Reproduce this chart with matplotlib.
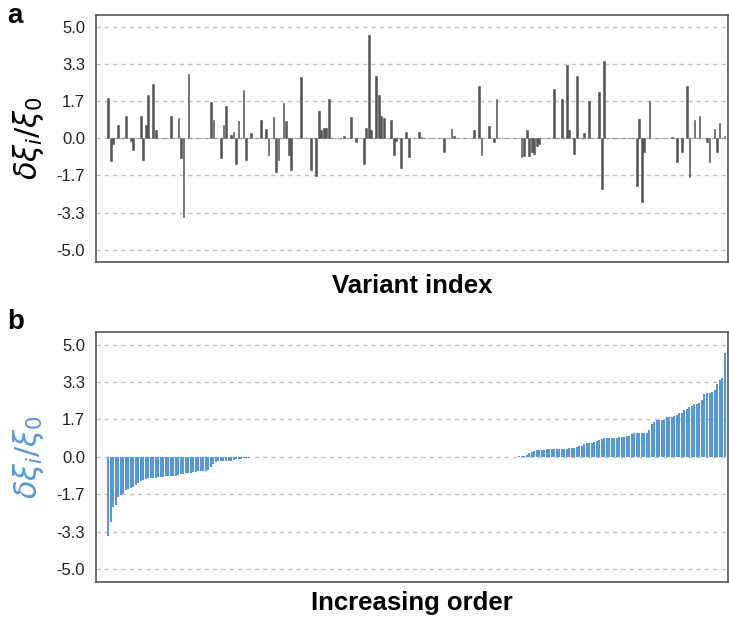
# Variant effects: raw (panel a) and sorted (panel b)

import numpy as np
import matplotlib.pyplot as plt

plt.rcParams['font.family'] = ['Liberation Sans', 'DejaVu Sans']

n_variants = 247

# panel a: non-zero variants (index, value)
variant_idx = [0, 1, 2, 4, 7, 9, 10, 13, 14, 15, 16, 18, 19, 25, 28, 29, 30, 32,
               41, 42, 45, 46, 47, 49, 50, 51, 52, 54, 55, 57,
               61, 63, 64, 66, 67, 68, 70, 71, 72, 73, 77, 81, 83, 84, 85, 86, 87, 88,
               94, 97, 99, 102, 103, 104, 105, 107, 108, 109, 110, 113, 114, 115, 117,
               119, 120, 124, 125, 134, 137, 138, 146, 148, 149, 152, 154, 155,
               165, 166, 167, 168, 169, 170, 171, 172, 178, 181,
               183, 184, 186, 187, 190, 192, 196, 197, 198, 211, 212, 213, 214, 216,
               225, 227, 229, 231, 232, 234, 236, 239, 240, 242, 243, 244, 246]
variant_val = [1.8, -1.0, -0.24, 0.62, 1.0, -0.1, -0.5, 1.0, -0.95, 0.62, 1.95, 2.43, 0.36,
               1.0, 0.92, -0.86, -3.52, 2.9,
               1.63, 0.83, -0.86, 0.62, 1.45, 0.15, 0.3, -1.15, 0.77, 2.16, -0.98, 0.24,
               0.83, 0.44, -0.74, 0.95, -1.49, -0.95, 1.57, 0.77, -0.74, -1.42, 2.75, -1.42,
               -1.69, 1.21, 0.36, 0.47, 0.47, 1.75,
               0.1, 0.95, -0.15, -1.15, 0.47, 4.65, 0.36, 2.81, 1.95, 1.0, 0.92, 0.83,
               -0.74, -0.12, -1.33,
               0.27, -0.83, 0.3, 0.05, -0.62, 0.41, 0.1, 0.36, 2.37, -0.74, 0.56, -0.15,
               1.75,
               -0.83, -0.8, 0.36, -0.8, -0.62, -0.71, -0.36, -0.27, 2.22, 1.75,
               3.31, 0.36, -0.68, 2.81, 0.24, 1.66, 2.1, -2.28, 3.49, -2.13, 0.89, -2.87,
               -0.62, 1.66,
               0.05, -1.07, -0.59, 2.37, -1.75, 0.83, 1.0, -0.18, -1.07, 0.41, -0.62,
               0.68, 0.12]

# panel b: sorted values
sorted_neg = [-3.53, -2.89, -2.25, -2.15, -1.78, -1.70, -1.67, -1.48, -1.41, -1.38,
              -1.33, -1.26, -1.16, -1.08, -1.04, -1.0, -0.96, -0.93, -0.92, -0.92,
              -0.89, -0.89, -0.88, -0.86, -0.86, -0.84, -0.84, -0.83, -0.81, -0.78,
              -0.76, -0.74, -0.71, -0.70, -0.68, -0.67, -0.65, -0.65, -0.64, -0.62,
              -0.59, -0.47, -0.30, -0.22, -0.19, -0.19, -0.19, -0.19, -0.18, -0.18,
              -0.15, -0.10, -0.09, -0.09, -0.07, -0.06, -0.05]
n_zero = 107
sorted_pos = [0.02, 0.04, 0.05, 0.1, 0.18, 0.21, 0.27, 0.3, 0.3, 0.3,
              0.3, 0.33, 0.36, 0.36, 0.36, 0.36, 0.36, 0.36, 0.36, 0.36,
              0.41, 0.41, 0.41, 0.44, 0.5, 0.5, 0.56, 0.62, 0.62, 0.62,
              0.65, 0.71, 0.77, 0.8, 0.83, 0.83, 0.83, 0.83, 0.83, 0.83,
              0.89, 0.89, 0.89, 0.92, 0.95, 1.0, 1.04, 1.04, 1.04, 1.04,
              1.04, 1.04, 1.21, 1.48, 1.57, 1.63, 1.63, 1.66, 1.66, 1.78,
              1.78, 1.78, 1.81, 1.87, 1.96, 1.96, 2.07, 2.13, 2.22, 2.28,
              2.37, 2.37, 2.4, 2.55, 2.79, 2.84, 2.84, 2.87, 2.96, 3.26,
              3.44, 3.5, 4.62]

tick_vals = [5.0, 10 / 3, 5 / 3, 0.0, -5 / 3, -10 / 3, -5.0]
tick_labels = ["5.0", "3.3", "1.7", "0.0", "-1.7", "-3.3", "-5.0"]

raw = np.zeros(n_variants)
raw[variant_idx] = variant_val
ordered = np.concatenate([sorted_neg, np.zeros(n_zero), sorted_pos])

fig = plt.figure(figsize=(7.29, 6.22), dpi=100)
ax_a = fig.add_axes([0.132, 0.579, 0.866, 0.397])
ax_b = fig.add_axes([0.132, 0.065, 0.866, 0.401])


def style(ax):
    ax.set_xlim(-4.8, n_variants + 0.2)
    ax.set_ylim(-5.55, 5.55)
    ax.set_yticks(tick_vals)
    ax.set_yticklabels(tick_labels, fontsize=12, color="#222222")
    ax.set_xticks([])
    ax.tick_params(axis="y", length=0, pad=8)
    ax.yaxis.grid(True, linestyle=(0, (3, 3)), color="#c4c4c4", linewidth=1)
    ax.set_axisbelow(True)
    for s in ax.spines.values():
        s.set_color("#555555")
        s.set_linewidth(1.2)


ax_a.bar(np.arange(n_variants), raw, width=0.7, color="#555555",
         edgecolor="#555555", linewidth=0.4)
style(ax_a)
ax_a.set_xlabel("Variant index", fontsize=18.5, fontweight="bold", labelpad=9)
ax_a.set_ylabel(r"$\delta\xi_i/\xi_0$", fontsize=22, labelpad=8)

ax_b.bar(np.arange(len(ordered)), ordered, width=0.8, color="#5597d8")
style(ax_b)
ax_b.set_xlabel("Increasing order", fontsize=18.5, fontweight="bold", labelpad=7)
ax_b.set_ylabel(r"$\delta\xi_i/\xi_0$", fontsize=22, labelpad=8, color="#5597d8")

fig.text(0.01, 0.975, "a", fontsize=20, fontweight="bold", va="center")
fig.text(0.01, 0.483, "b", fontsize=20, fontweight="bold", va="center")

plt.savefig("out.png", dpi=100)
